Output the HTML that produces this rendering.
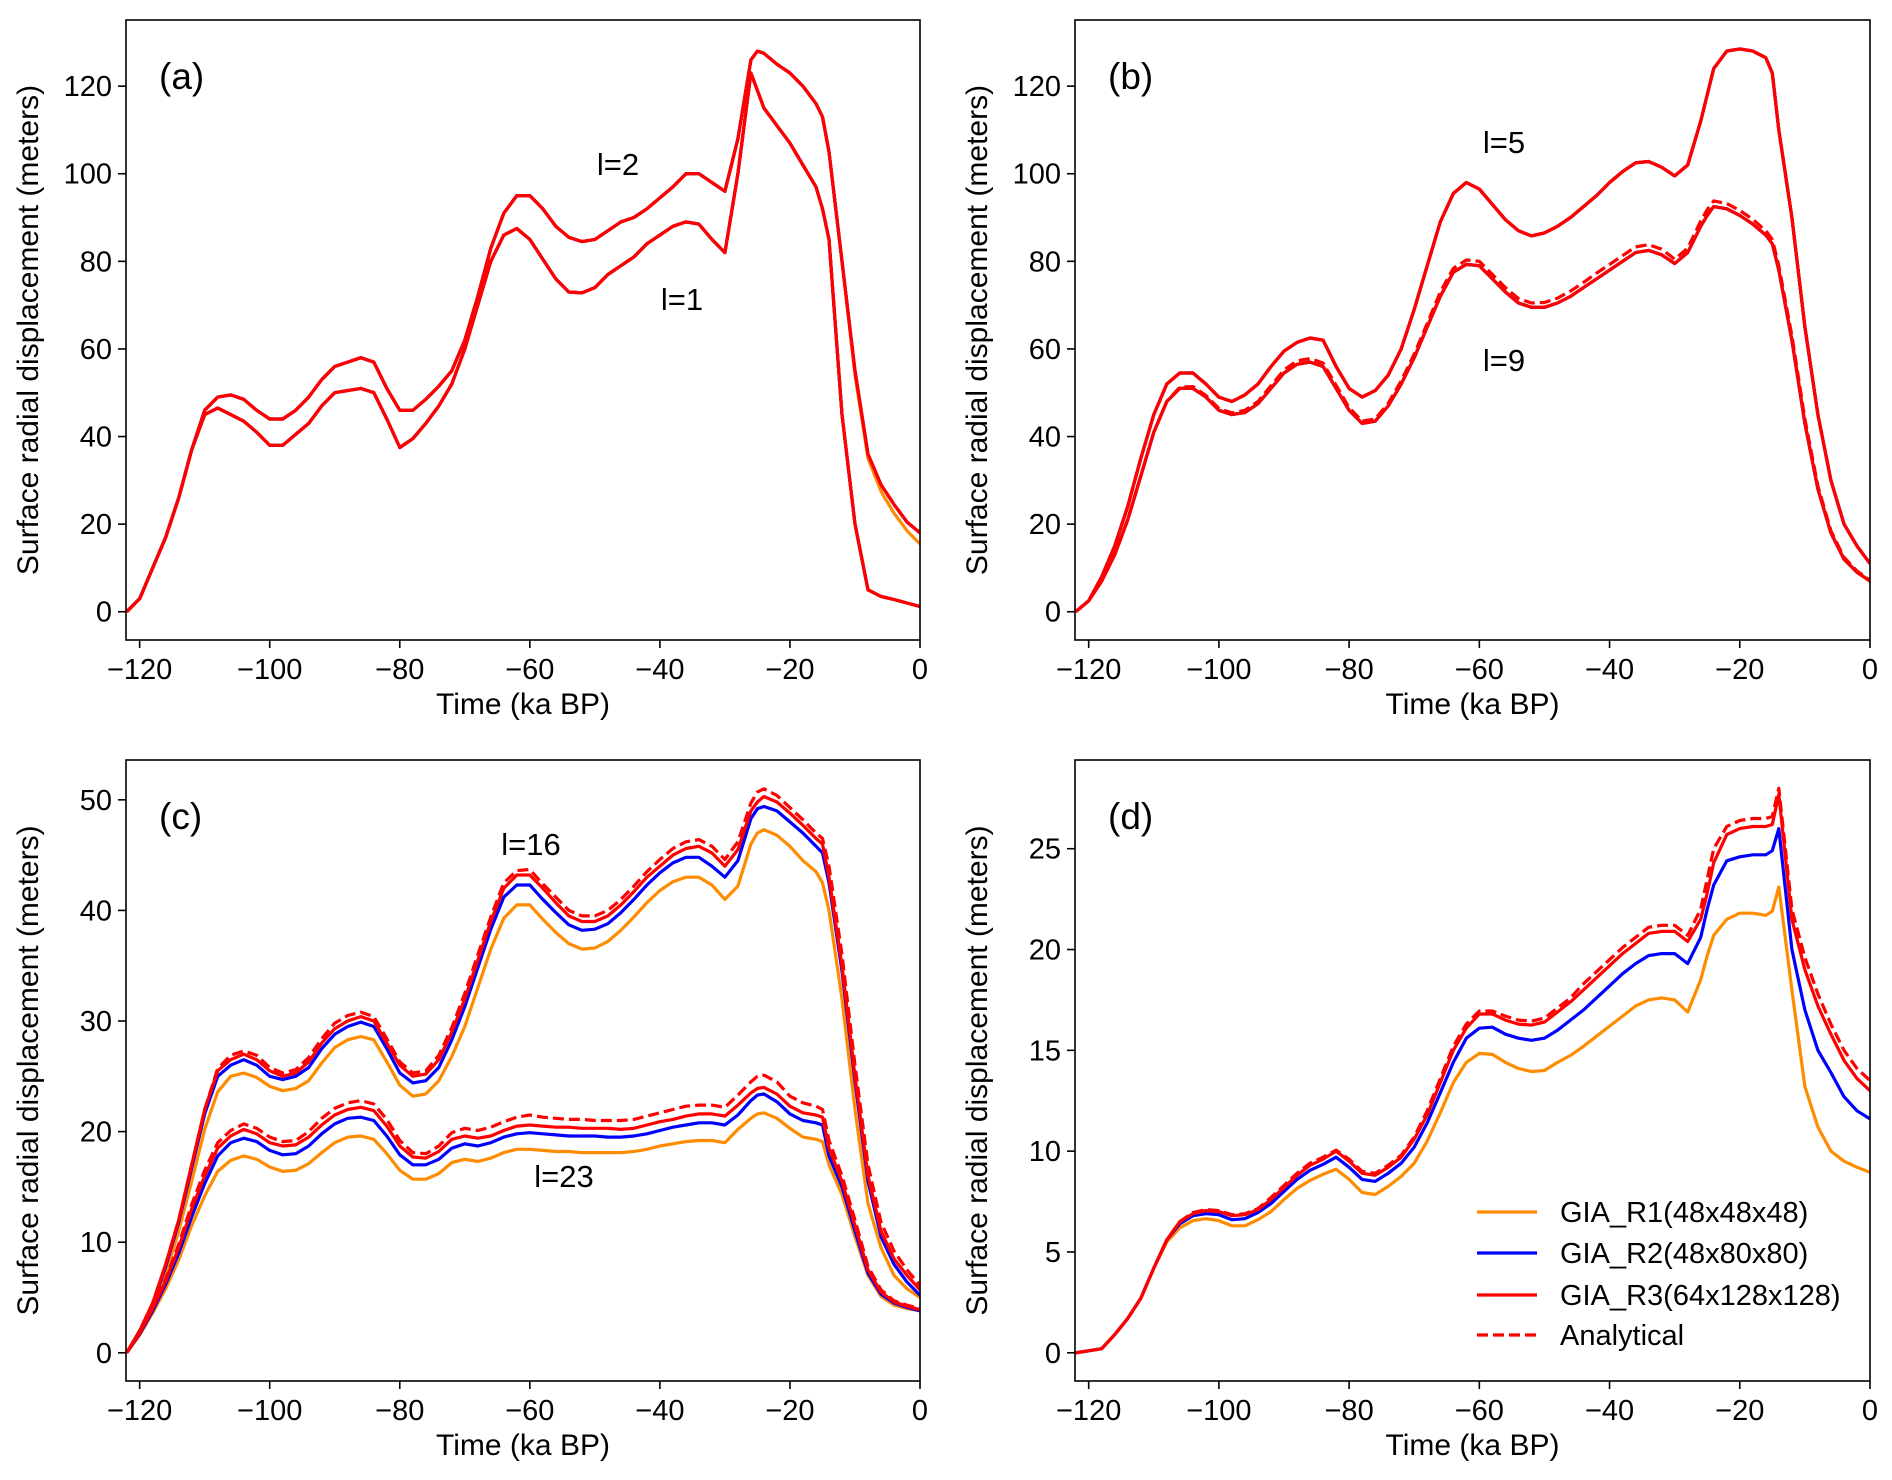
<!DOCTYPE html>
<html><head><meta charset="utf-8">
<style>
html,body{margin:0;padding:0;background:#fff;}
svg{display:block;font-family:"Liberation Sans",Arial,sans-serif;}
</style></head>
<body>
<svg id="fig" width="1892" height="1480" viewBox="0 0 1892 1480" xmlns="http://www.w3.org/2000/svg"></svg>
<script>
const xs = [-122,-120,-118,-116,-114,-112,-110,-108,-106,-104,-102,-100,-98,-96,-94,-92,-90,-88,-86,-84,-82,-80,-78,-76,-74,-72,-70,-68,-66,-64,-62,-60,-58,-56,-54,-52,-50,-48,-46,-44,-42,-40,-38,-36,-34,-32,-30,-28,-26,-25,-24,-22,-20,-18,-16,-15,-14,-12,-10,-8,-6,-4,-2,0];
const xTicks = [-120,-100,-80,-60,-40,-20,0];
const xTickLabels = ["\u2212120","\u2212100","\u221280","\u221260","\u221240","\u221220","0"];
const yTicksAB = [0,20,40,60,80,100,120];
const yTicksC = [0,10,20,30,40,50];
const yTicksD = [0,5,10,15,20,25];

// panel (a)
const a_l2 = [0,3,10,17,26,37,46,49,49.5,48.5,46,44,44,46,49,53,56,57,58,57,51,46,46,48.5,51.5,55,62,72,83,91,95,95,92,88,85.5,84.5,85,87,89,90,92,94.5,97,100,100,98,96,108,126,128,127.5,125,123,120,116,113,105,80,55,36,29,24.5,20.5,18];
const a_l2_r1 = [0,3,10,17,26,37,46,49,49.5,48.5,46,44,44,46,49,53,56,57,58,57,51,46,46,48.5,51.5,55,62,72,83,91,95,95,92,88,85.5,84.5,85,87,89,90,92,94.5,97,100,100,98,96,108,126,128,127.5,125,123,120,116,113,105,80,54,35,27.5,22.5,18.5,15.5];
const a_l1 = [0,3,10,17,26,37,45,46.5,45,43.5,41,38,38,40.5,43,47,50,50.5,51,50,44,37.5,39.5,43,47,52,60,70,80,86,87.5,85,80.5,76,73,72.8,74,77,79,81,84,86,88,89,88.5,85,82,100,123,119,115,111,107,102,97,92,85,45,20,5,3.5,2.8,2,1.2];

// panel (b)
const b_l5 = [0,2.5,8,15,24,35,45,52,54.5,54.5,52,49,48,49.5,52,56,59.5,61.5,62.5,62,56,51,49,50.5,54,60,69,79,89,95.5,98,96.5,93,89.5,87,85.8,86.5,88,90,92.5,95,98,100.5,102.5,102.8,101.5,99.5,102,112,118,124,128,128.5,128,126.5,123,110,90,65,45,30,20,15,11];
const b_l9 = [0,2.5,7,13,21,31,41,48,51,51,49,46,45,45.5,47.5,51,54.5,56.5,57,56,51,46,43,43.5,47,52,58,65,72,77.5,79.3,79,76,73,70.5,69.5,69.5,70.5,72,74,76,78,80,82,82.5,81.5,79.5,82,88,90.5,92.5,92,90.5,88.5,86,84,78,62,43,28,18,12,9,7];
const b_l9_an = [0,2.5,7,13,21,31,41,48,51.3,51.4,49.4,46.4,45.4,46,48,51.6,55.2,57.3,57.8,56.8,51.7,46.6,43.5,44,47.6,52.7,58.8,65.8,73,78.4,80.3,80,77,74,71.5,70.5,70.6,71.6,73.2,75.2,77.3,79.3,81.3,83.3,83.8,82.8,80.5,83,89.2,91.8,93.8,93.2,91.6,89.6,87,85,79,63,44,28.7,18.5,12.4,9.3,7.2];

// panel (c)
const c16_r3 = [0,2,4.5,8,12,17,22,25.5,26.5,27,26.5,25.5,25,25.3,26.3,28,29.3,30,30.4,30,28,26,25,25.2,26.5,29,32,35.5,39,42,43.2,43.2,42,40.7,39.5,39,39,39.5,40.5,41.7,43,44,45,45.6,45.8,45.2,44,45.5,49,49.8,50.3,49.8,48.8,47.7,46.5,46,43,35,25,16,11,8.5,7,5.7];
const c16_an = [0,2,4.5,8,12,17,22,25.7,26.9,27.3,26.9,25.8,25.3,25.6,26.7,28.4,29.8,30.5,30.8,30.4,28.4,26.3,25.3,25.5,26.9,29.4,32.5,36,39.4,42.5,43.6,43.7,42.4,41.2,40,39.5,39.5,40,41,42.2,43.5,44.6,45.6,46.2,46.4,45.8,44.6,46.2,49.7,50.7,51,50.4,49.3,48.2,47,46.5,44,36,26,17,11.8,9.2,7.5,6.1];
const c16_r2 = [0,2,4.4,7.8,11.8,16.7,21.6,25,26,26.5,26,25,24.7,25,25.8,27.5,28.8,29.5,29.9,29.5,27.5,25.3,24.4,24.6,25.8,28.3,31.3,34.8,38.3,41.2,42.3,42.3,41,39.8,38.7,38.2,38.3,38.8,39.8,41,42.3,43.4,44.3,44.8,44.8,44,43,44.5,48.3,49.2,49.4,49,48,47,45.8,45.2,42.5,34.5,24.5,15.5,10.5,8,6.4,5.2];
const c16_r1 = [0,1.8,4,7.2,11,15.5,20.2,23.6,25,25.3,24.9,24.1,23.7,23.9,24.6,26.2,27.6,28.3,28.6,28.3,26.3,24.2,23.2,23.4,24.6,26.8,29.5,33,36.5,39.3,40.5,40.5,39.2,38,37,36.5,36.6,37.2,38.2,39.4,40.7,41.8,42.6,43,43,42.3,41,42.2,46,47,47.3,46.8,45.8,44.5,43.5,42.5,40,32,22,13.5,9.5,7,5.8,5];
const c23_r3 = [0,1.8,4,6.5,9.5,13,16,18.5,19.6,20.2,19.8,19,18.7,18.8,19.5,20.6,21.5,22,22.2,21.9,20.5,18.7,17.7,17.6,18.2,19.3,19.6,19.4,19.6,20.1,20.5,20.6,20.5,20.4,20.4,20.3,20.3,20.3,20.2,20.3,20.6,20.9,21.1,21.4,21.6,21.6,21.4,22.4,23.5,23.9,24,23.4,22.3,21.7,21.5,21.3,18.5,15.5,11.5,7.5,5.5,4.6,4.2,3.9];
const c23_an = [0,1.8,4.1,6.7,9.8,13.4,16.5,19,20.1,20.7,20.3,19.5,19.1,19.2,20,21.2,22.1,22.6,22.8,22.5,21.1,19.2,18.1,18,18.7,19.9,20.3,20.1,20.4,20.9,21.3,21.5,21.3,21.2,21.1,21.1,21,21,21,21.1,21.4,21.7,22,22.3,22.4,22.4,22.2,23.3,24.5,25,25.1,24.5,23.2,22.6,22.3,22,19.2,16,12,7.8,5.7,4.7,4.3,4];
const c23_r2 = [0,1.7,3.8,6.2,9,12.3,15.3,17.8,19,19.4,19.1,18.3,17.9,18,18.7,19.8,20.7,21.2,21.3,21,19.6,17.9,17,17,17.5,18.5,18.9,18.7,19,19.5,19.8,19.9,19.8,19.7,19.6,19.6,19.6,19.5,19.5,19.6,19.8,20.1,20.4,20.6,20.8,20.8,20.6,21.5,22.8,23.3,23.4,22.7,21.6,21,20.8,20.6,17.8,15,11,7.2,5.3,4.5,4.1,3.8];
const c23_r1 = [0,1.6,3.6,5.8,8.4,11.5,14.2,16.4,17.4,17.8,17.5,16.8,16.4,16.5,17.1,18.1,19,19.5,19.6,19.3,18,16.5,15.7,15.7,16.2,17.2,17.5,17.3,17.6,18.1,18.4,18.4,18.3,18.2,18.2,18.1,18.1,18.1,18.1,18.2,18.4,18.7,18.9,19.1,19.2,19.2,19,20.2,21.2,21.6,21.7,21.2,20.3,19.5,19.3,19.1,17,14.3,10.5,7,5.1,4.3,4,3.8];

// panel (d)
const d_r3 = [0,0.1,0.2,0.9,1.7,2.7,4.2,5.6,6.5,6.9,7.05,7,6.8,6.85,7.1,7.6,8.2,8.8,9.3,9.6,10,9.5,8.9,8.8,9.2,9.7,10.6,11.8,13.4,15,16.1,16.8,16.8,16.5,16.3,16.25,16.4,16.9,17.4,18,18.6,19.2,19.8,20.3,20.8,20.9,20.9,20.4,21.5,22.8,24.3,25.7,26,26.1,26.1,26.2,27.7,21.5,19,17.2,15.8,14.5,13.6,13];
const d_an = [0,0.1,0.2,0.9,1.7,2.7,4.2,5.6,6.5,6.95,7.1,7.05,6.85,6.9,7.15,7.7,8.3,8.9,9.4,9.7,10.05,9.6,9,8.9,9.3,9.8,10.7,12,13.6,15.2,16.3,16.95,16.95,16.7,16.5,16.45,16.6,17.1,17.6,18.3,18.9,19.5,20.1,20.6,21.1,21.2,21.2,20.7,22,23.5,25,26.1,26.4,26.5,26.5,26.6,28,22,19.6,17.8,16.3,15,14.1,13.5];
const d_r2 = [0,0.1,0.2,0.9,1.7,2.7,4.2,5.6,6.4,6.8,6.9,6.85,6.6,6.65,6.95,7.4,8,8.6,9.05,9.35,9.7,9.2,8.6,8.5,8.9,9.4,10.2,11.4,12.9,14.4,15.6,16.1,16.15,15.8,15.6,15.5,15.6,16,16.5,17,17.6,18.2,18.8,19.3,19.7,19.8,19.8,19.3,20.6,22,23.2,24.4,24.6,24.7,24.7,24.9,26,20,17,15,13.9,12.7,12,11.6];
const d_r1 = [0,0.1,0.2,0.9,1.7,2.7,4.2,5.5,6.2,6.55,6.65,6.55,6.3,6.3,6.6,7,7.6,8.15,8.55,8.85,9.1,8.6,7.95,7.85,8.25,8.75,9.4,10.5,11.9,13.4,14.4,14.85,14.8,14.4,14.1,13.95,14,14.4,14.75,15.2,15.7,16.2,16.7,17.2,17.5,17.6,17.5,16.9,18.5,19.7,20.7,21.5,21.8,21.8,21.7,21.9,23.1,18,13.2,11.2,10,9.5,9.2,8.95];

const NS = "http://www.w3.org/2000/svg";
const svg = document.getElementById("fig");
function mk(tag, attrs, parent){
  const e = document.createElementNS(NS, tag);
  for (const k in attrs) e.setAttribute(k, attrs[k]);
  (parent||svg).appendChild(e);
  return e;
}
const ORANGE="#ff8c00", BLUE="#0000ff", RED="#ff0000";

function panel(opt){
  const g = mk("g", {});
  
  
  const L=opt.left, R=opt.right, T=opt.top, B=opt.bottom;
  const sx = v => L + (v - (-122.1)) / (0 - (-122.1)) * (R - L);
  const sy = v => B - (v - opt.ymin) / (opt.ymax - opt.ymin) * (B - T);
  // clip
  const cp = mk("clipPath", {id:"clip-"+opt.id}, g);
  mk("rect", {x:L, y:T, width:R-L, height:B-T}, cp);
  const lines = mk("g", {"clip-path":"url(#clip-"+opt.id+")"}, g);
  opt.series.forEach(s => {
    const d = xs.map((x,i) => (i?"L":"M") + sx(x).toFixed(1) + " " + sy(s.data[i]).toFixed(1)).join(" ");
    const p = mk("path", {d:d, fill:"none", stroke:s.color, "stroke-width":3.2, "stroke-linejoin":"round", "stroke-linecap":"butt"}, lines);
    if (s.dash) p.setAttribute("stroke-dasharray", "11 5");
    
    
  });
  // frame
  const fr = mk("rect", {x:L, y:T, width:R-L, height:B-T, fill:"none", stroke:"#000", "stroke-width":1.6}, g);
  
  
  // x ticks
  xTicks.forEach((t,i) => {
    const x = sx(t);
    mk("line", {x1:x, x2:x, y1:B, y2:B+8, stroke:"#000", "stroke-width":1.6}, g);
    const tx = mk("text", {x:x, y:B+39, "font-size":29, "text-anchor":"middle", fill:"#000"}, g);
    tx.textContent = xTickLabels[i];
    
    
  });
  opt.yticks.forEach(t => {
    const y = sy(t);
    mk("line", {x1:L-8, x2:L, y1:y, y2:y, stroke:"#000", "stroke-width":1.6}, g);
    const tx = mk("text", {x:L-14, y:y+10, "font-size":29, "text-anchor":"end", fill:"#000"}, g);
    tx.textContent = String(t);
    
    
  });
  const xt = mk("text", {x:(L+R)/2, y:B+74, "font-size":30, "text-anchor":"middle", fill:"#000"}, g);
  xt.textContent = "Time (ka BP)";
  
  
  const yx = L - 88, yc = (T+B)/2;
  const yt = mk("text", {x:yx, y:yc, "font-size":30, "text-anchor":"middle", fill:"#000", transform:"rotate(-90 "+yx+" "+yc+")"}, g);
  yt.textContent = "Surface radial displacement (meters)";
  
  
  const lt = mk("text", {x:L+33, y:T+69, "font-size":37, fill:"#000"}, g);
  lt.textContent = "(" + opt.id + ")";
  
  
  (opt.notes||[]).forEach(n => {
    const a = mk("text", {x:n.x, y:n.y, "font-size":31, "text-anchor":"middle", fill:"#000"}, g);
    a.textContent = n.t;
    
    
  });
  return g;
}

function four(prefix, r1, r2, r3, an){
  return [
    {name:prefix+"-gia-r1", color:ORANGE, data:r1},
    {name:prefix+"-gia-r2", color:BLUE, data:r2},
    {name:prefix+"-gia-r3", color:RED, data:r3},
    {name:prefix+"-analytical", color:RED, data:an, dash:true}
  ];
}

panel({id:"a", left:126, right:920, top:20, bottom:640, ymin:-6.45, ymax:135.1, yticks:yTicksAB,
  series:[...four("l2", a_l2_r1, a_l2, a_l2, a_l2), ...four("l1", a_l1, a_l1, a_l1, a_l1)],
  notes:[{t:"l=2", x:618, y:175}, {t:"l=1", x:682, y:310}]});
panel({id:"b", left:1075, right:1870, top:20, bottom:640, ymin:-6.45, ymax:135.1, yticks:yTicksAB,
  series:[...four("l5", b_l5, b_l5, b_l5, b_l5), ...four("l9", b_l9, b_l9, b_l9, b_l9_an)],
  notes:[{t:"l=5", x:1504, y:153}, {t:"l=9", x:1504, y:371}]});
panel({id:"c", left:126, right:920, top:760, bottom:1381, ymin:-2.55, ymax:53.6, yticks:yTicksC,
  series:[...four("l16", c16_r1, c16_r2, c16_r3, c16_an), ...four("l23", c23_r1, c23_r2, c23_r3, c23_an)],
  notes:[{t:"l=16", x:531, y:855}, {t:"l=23", x:564, y:1187}]});
panel({id:"d", left:1075, right:1870, top:760, bottom:1381, ymin:-1.4, ymax:29.4, yticks:yTicksD,
  series:four("d", d_r1, d_r2, d_r3, d_an)});

// legend
const lg = mk("g", {});


const legLabels = ["GIA_R1(48x48x48)","GIA_R2(48x80x80)","GIA_R3(64x128x128)","Analytical"];
const legColors = [ORANGE, BLUE, RED, RED];
const legY = [1212, 1253, 1295, 1335];
legLabels.forEach((lab,i) => {
  const ln = mk("line", {x1:1477, x2:1537, y1:legY[i], y2:legY[i], stroke:legColors[i], "stroke-width":3.2}, lg);
  if (i===3) ln.setAttribute("stroke-dasharray", "11 5");
  
  
  const tx = mk("text", {x:1560, y:legY[i]+10, "font-size":29, fill:"#000"}, lg);
  tx.textContent = lab;
  
  
});
</script>
</body></html>
